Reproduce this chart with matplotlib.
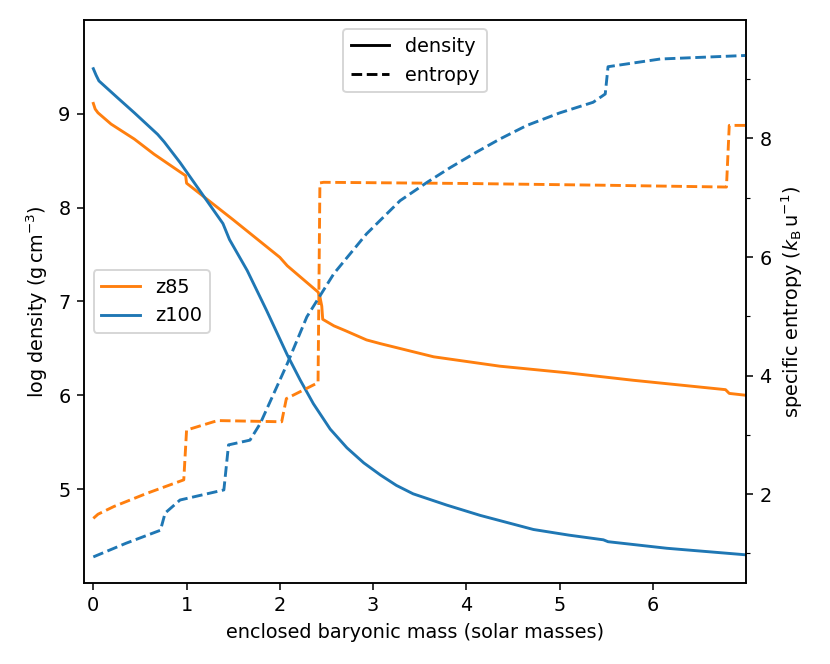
import numpy as np
import matplotlib
matplotlib.use("Agg")
import matplotlib.pyplot as plt
from matplotlib.lines import Line2D

# z100 model
m_z100_rho = [0, 0.03, 0.06, 0.26, 0.44, 0.69, 0.76, 0.93, 1.22, 1.39, 1.46, 1.65,
              1.86, 2.08, 2.22, 2.36, 2.54, 2.72, 2.90, 3.08, 3.25, 3.43, 3.79, 4.15,
              4.72, 5.1, 5.47, 5.52, 6.15, 7.0]
rho_z100 = [9.48, 9.41, 9.35, 9.17, 9.01, 8.78, 8.70, 8.48, 8.07, 7.83, 7.66, 7.33,
            6.90, 6.43, 6.16, 5.91, 5.64, 5.44, 5.28, 5.15, 5.04, 4.95, 4.83, 4.72,
            4.57, 4.51, 4.46, 4.44, 4.37, 4.30]
m_z100_s = [0, 0.35, 0.72, 0.77, 0.93, 1.40, 1.45, 1.68, 1.79, 2.08, 2.29, 2.58,
            2.93, 3.29, 3.58, 3.83, 4.11, 4.36, 4.65, 5.0, 5.36, 5.49, 5.52, 6.08, 7.0]
s_z100 = [0.94, 1.17, 1.39, 1.68, 1.90, 2.07, 2.83, 2.91, 3.19, 4.20, 4.99, 5.72,
          6.39, 6.95, 7.26, 7.51, 7.77, 7.99, 8.22, 8.43, 8.61, 8.75, 9.21, 9.34, 9.40]

# z85 model
m_z85_rho = [0, 0.02, 0.05, 0.19, 0.44, 0.65, 0.93, 0.99, 1.0, 1.5, 2.0, 2.08, 2.41,
             2.43, 2.45, 2.46, 2.58, 2.7, 2.93, 3.08, 3.65, 4.36, 5.08, 5.79, 6.78,
             6.82, 7.0]
rho_z85 = [9.11, 9.05, 9.01, 8.89, 8.73, 8.57, 8.38, 8.34, 8.26, 7.87, 7.47, 7.38,
           7.10, 7.05, 6.95, 6.81, 6.74, 6.69, 6.59, 6.55, 6.41, 6.31, 6.24, 6.16,
           6.06, 6.02, 6.00]
m_z85_s = [0, 0.05, 0.22, 0.57, 0.97, 1.0, 1.29, 1.34, 2.02, 2.07, 2.41, 2.43, 2.47,
           4.0, 5.5, 6.79, 6.82, 7.0]
s_z85 = [1.59, 1.66, 1.79, 2.01, 2.24, 3.08, 3.22, 3.24, 3.22, 3.61, 3.88, 7.25, 7.26,
         7.24, 7.21, 7.18, 8.22, 8.22]

fig, ax = plt.subplots(figsize=(6, 4.8), dpi=138.34)
fig.subplots_adjust(left=0.1012, right=0.8988, bottom=0.122, top=0.970)
ax2 = ax.twinx()

l85, = ax.plot(m_z85_rho, rho_z85, color='C1', label='z85')
l100, = ax.plot(m_z100_rho, rho_z100, color='C0', label='z100')
ax2.plot(m_z85_s, s_z85, color='C1', ls='--')
ax2.plot(m_z100_s, s_z100, color='C0', ls='--')

ax.set_xlim(-0.1, 7.0)
ax.set_ylim(4.0, 10.0)
ax2.set_ylim(0.5, 10.0)
ax.set_xticks(range(0, 7))
ax.set_yticks([5, 6, 7, 8, 9])
ax2.set_yticks([2, 4, 6, 8])
ax2.set_yticks([1, 3, 5, 7, 9], minor=True)

ax.set_xlabel('enclosed baryonic mass (solar masses)')
ax.set_ylabel(r'log density ($\mathrm{g\,cm^{-3}}$)')
ax2.set_ylabel(r'specific entropy ($k_\mathrm{B}\,\mathrm{u}^{-1}$)')

leg1 = ax2.legend([l85, l100], ['z85', 'z100'], loc='center left')
ax2.add_artist(leg1)
style_handles = [Line2D([], [], color='k', ls='-'), Line2D([], [], color='k', ls='--')]
ax2.legend(style_handles, ['density', 'entropy'], loc='upper center')

fig.savefig('out.png', dpi=138.34)
